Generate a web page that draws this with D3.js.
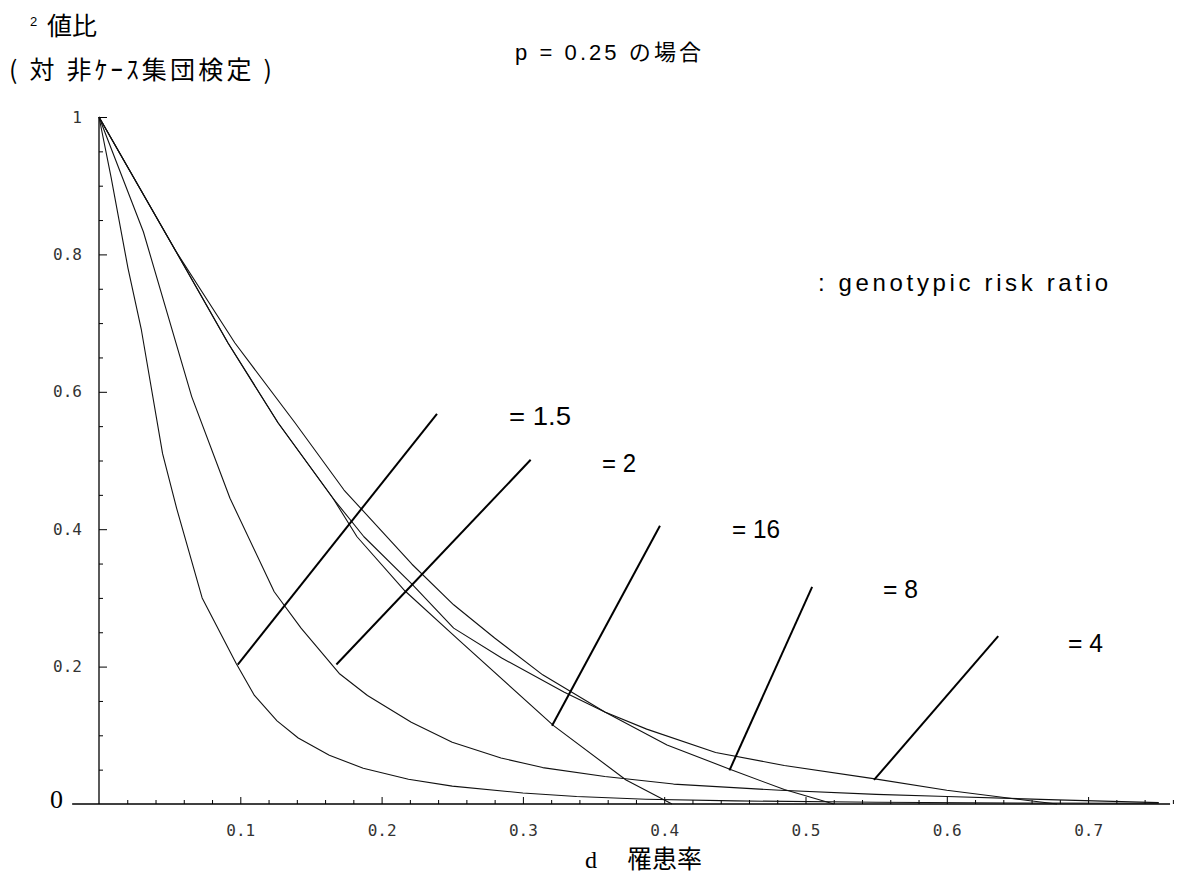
<!DOCTYPE html>
<html>
<head>
<meta charset="utf-8">
<script src="https://cdn.jsdelivr.net/npm/d3@7"></script>
<style>
  html, body { margin: 0; padding: 0; background: #fff; }
  svg { display: block; }
</style>
</head>
<body>
<svg id="chart" width="1179" height="881"></svg>
<script>
// χ² ratio versus prevalence d, p = 0.25, one curve per genotypic risk ratio
const riskRatioLabels = ["= 1.5", "= 2", "= 16", "= 8", "= 4"];

const curveRisk1_5 = [[0,1],[0.0085,0.913],[0.0205,0.78],[0.03,0.69],[0.045,0.51],[0.055,0.43],[0.073,0.30],[0.097,0.205],[0.11,0.158],[0.126,0.121],[0.141,0.096],[0.163,0.071],[0.187,0.052],[0.219,0.036],[0.25,0.026],[0.3,0.016],[0.338,0.011],[0.387,0.007],[0.45,0.0045],[0.55,0.0025],[0.65,0.0015],[0.75,0.001]];
const curveRisk2 = [[0,1],[0.0314,0.833],[0.0656,0.593],[0.0927,0.445],[0.124,0.309],[0.143,0.256],[0.17,0.19],[0.19,0.158],[0.221,0.119],[0.25,0.09],[0.2845,0.067],[0.314,0.053],[0.358,0.04],[0.4066,0.029],[0.482,0.02],[0.55,0.014],[0.6,0.011],[0.678,0.006],[0.75,0.002]];
const curveRisk16 = [[0,1],[0.054,0.806],[0.0913,0.671],[0.1267,0.555],[0.1656,0.445],[0.1826,0.389],[0.2166,0.31],[0.2555,0.237],[0.3217,0.114],[0.373,0.035],[0.4055,0]];
const curveRisk8 = [[0,1],[0.054,0.806],[0.0962,0.671],[0.1387,0.555],[0.1734,0.457],[0.2215,0.349],[0.251,0.29],[0.28,0.2416],[0.314,0.188],[0.358,0.134],[0.402,0.086],[0.446,0.051],[0.485,0.021],[0.52,0]];
const curveRisk4 = [[0,1],[0.054,0.806],[0.0913,0.671],[0.1267,0.555],[0.1656,0.445],[0.1875,0.389],[0.2215,0.32],[0.251,0.256],[0.285,0.2125],[0.329,0.163],[0.358,0.134],[0.3876,0.109],[0.4364,0.075],[0.485,0.056],[0.548,0.037],[0.6,0.02],[0.6575,0.005],[0.678,0]];

// leader lines: [point on curve, free end] in data units
const leaderRisk1_5 = [[0.0982,0.203],[0.2392,0.568]];
const leaderRisk2 = [[0.168,0.203],[0.3055,0.501]];
const leaderRisk16 = [[0.3206,0.114],[0.397,0.405]];
const leaderRisk8 = [[0.4462,0.049],[0.5047,0.316]];
const leaderRisk4 = [[0.5485,0.035],[0.6364,0.2445]];

const xMajorTicks = [0.1,0.2,0.3,0.4,0.5,0.6,0.7];
const xTickLabels = ["0.1","0.2","0.3","0.4","0.5","0.6","0.7"];
const yMajorTicks = [0.2,0.4,0.6,0.8,1];
const yTickLabels = ["0.2","0.4","0.6","0.8","1"];

const svg = d3.select("#chart");
svg.append("rect").attr("width",1179).attr("height",881).attr("fill","#fff");

const x = d3.scaleLinear().domain([0,0.7]).range([99,99+0.7*1413]);
const y = d3.scaleLinear().domain([0,1]).range([804,117]);

const monoFont = "'DejaVu Sans Mono', 'Liberation Mono', monospace";
const sansFont = "'Liberation Sans', Arial, 'Noto Sans CJK JP', sans-serif";
const cjkFont = "'Noto Sans CJK JP', 'Liberation Sans', sans-serif";

// minor ticks
const xMinor = d3.range(1,39).map(i => i*0.02).filter(v => Math.abs(v*10 - Math.round(v*10)) > 1e-6);
const yMinor = d3.range(1,20).map(i => i*0.05).filter(v => Math.abs(v*5 - Math.round(v*5)) > 1e-6);

const gx = svg.append("g").attr("transform",`translate(0,${y(0)})`);
gx.append("g").call(d3.axisBottom(x).tickValues(xMinor).tickSizeInner(-4).tickSizeOuter(0).tickFormat(""))
  .call(g => g.select(".domain").remove());
gx.append("g").call(d3.axisBottom(x).tickValues(xMajorTicks).tickSizeInner(-7).tickSizeOuter(0).tickPadding(21)
    .tickFormat((d,i) => xTickLabels[i]))
  .call(g => g.select(".domain").remove());
gx.append("line").attr("x1",x(-0.019)).attr("x2",x(0.758)).attr("y1",0).attr("y2",0)
  .attr("stroke","#000").attr("stroke-width",1.3);

const gy = svg.append("g").attr("transform",`translate(${x(0)},0)`);
gy.append("g").call(d3.axisLeft(y).tickValues(yMinor).tickSizeInner(-4).tickSizeOuter(0).tickFormat(""))
  .call(g => g.select(".domain").remove());
gy.append("g").call(d3.axisLeft(y).tickValues(yMajorTicks).tickSizeInner(-8).tickSizeOuter(0).tickPadding(17)
    .tickFormat((d,i) => yTickLabels[i]))
  .call(g => g.select(".domain").remove());
gy.append("line").attr("x1",0).attr("x2",0).attr("y1",y(0)).attr("y2",y(1))
  .attr("stroke","#000").attr("stroke-width",1.3);

svg.selectAll(".tick line").attr("stroke","#000").attr("stroke-width",1);
svg.selectAll(".tick text").style("font-family",monoFont).style("font-size","16px").attr("fill","#333");

// big origin label
svg.append("text").attr("x",63).attr("y",808).attr("text-anchor","end")
  .attr("font-family","'Liberation Serif', 'DejaVu Serif', serif").attr("font-size",26).text("0");

// curves
const line = d3.line().x(d => x(d[0])).y(d => y(d[1]));
[curveRisk1_5, curveRisk2, curveRisk16, curveRisk8, curveRisk4].forEach(c => {
  svg.append("path").attr("d", line(c)).attr("fill","none")
    .attr("stroke","#111").attr("stroke-width",1.1).attr("stroke-linejoin","round");
});

// leader lines and their labels
const leaders = [leaderRisk1_5, leaderRisk2, leaderRisk16, leaderRisk8, leaderRisk4];
leaders.forEach(l => {
  svg.append("line").attr("x1",x(l[0][0])).attr("y1",y(l[0][1]))
    .attr("x2",x(l[1][0])).attr("y2",y(l[1][1]))
    .attr("stroke","#000").attr("stroke-width",2);
});
const labelPlace = [[509,425,62],[602,472,34],[732,538,48],[883,598,35],[1068,652,35]];
riskRatioLabels.forEach((t,i) => {
  const p = labelPlace[i];
  svg.append("text").attr("x",p[0]).attr("y",p[1]).attr("font-family",sansFont)
    .attr("font-size",25).attr("textLength",p[2]).attr("lengthAdjust","spacingAndGlyphs").text(t);
});

// titles
svg.append("text").attr("x",515).attr("y",60).attr("font-family",sansFont).attr("font-size",22)
  .attr("textLength",186).attr("lengthAdjust","spacing").text("p = 0.25 の場合");

svg.append("text").attr("x",30).attr("y",26).attr("font-family",sansFont).attr("font-size",13).text("2");
svg.append("text").attr("x",47).attr("y",35).attr("font-family",cjkFont).attr("font-size",25).text("値比");
svg.append("text").attr("x",9).attr("y",79).attr("font-family",cjkFont).attr("font-size",25)
  .attr("textLength",263).attr("lengthAdjust","spacing").text("( 対 非ｹｰｽ集団検定 )");

svg.append("text").attr("x",818).attr("y",291).attr("font-family",sansFont).attr("font-size",24)
  .attr("textLength",290).attr("lengthAdjust","spacing").text(": genotypic risk ratio");

// x axis title
svg.append("text").attr("x",585).attr("y",868).attr("font-family","'Liberation Serif', serif")
  .attr("font-size",24).text("d");
svg.append("text").attr("x",627).attr("y",868).attr("font-family",cjkFont).attr("font-size",25).text("罹患率");
</script>
</body>
</html>
